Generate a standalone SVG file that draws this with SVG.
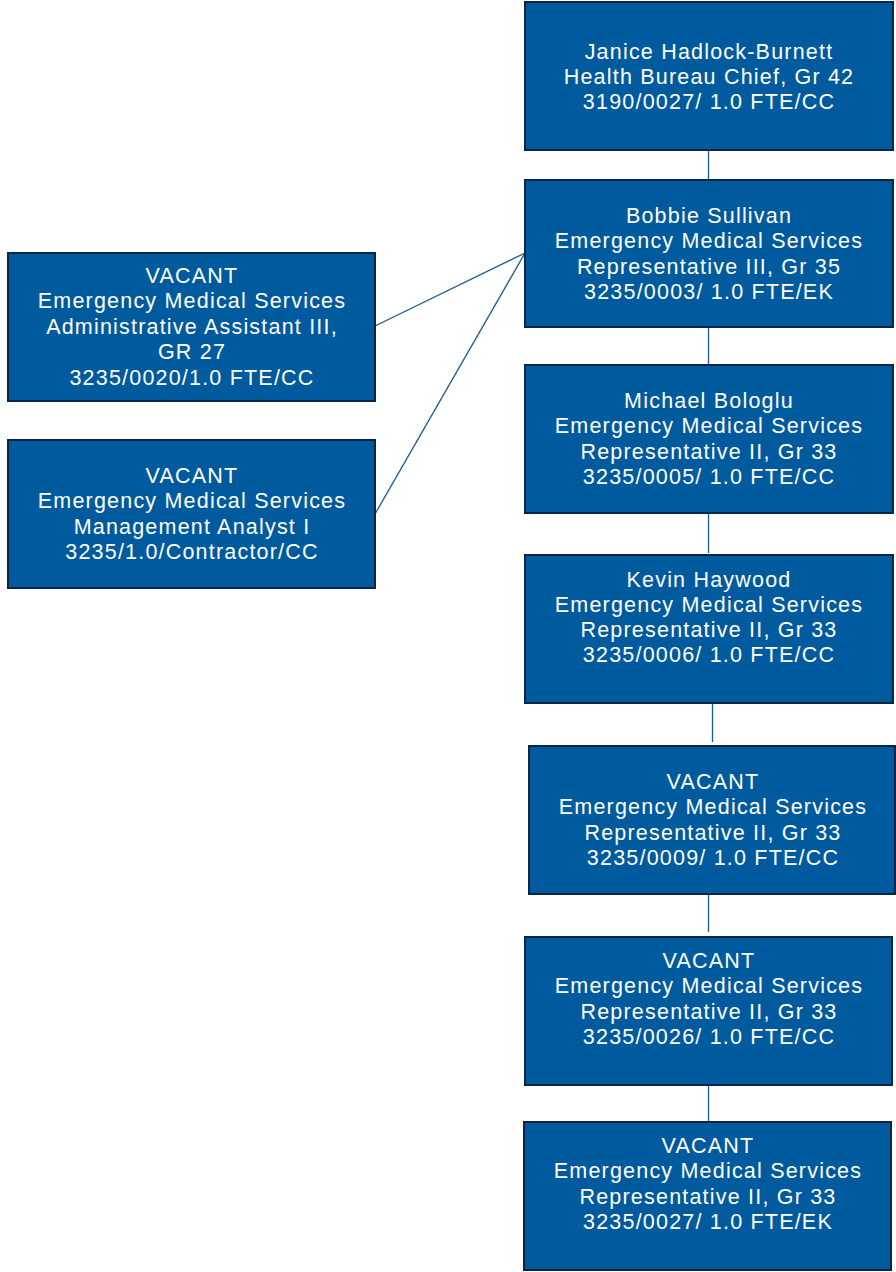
<svg xmlns="http://www.w3.org/2000/svg" width="896" height="1272" viewBox="0 0 896 1272">
<style>
.box{fill:#005A9E;stroke:#0B2545;stroke-width:2}
.t{font-family:"Liberation Sans",Arial,sans-serif;font-size:21.5px;letter-spacing:1.2px;fill:#ffffff;text-anchor:middle}
.c{stroke:#1B5A96;stroke-width:1.3;fill:none}
</style>
<rect width="896" height="1272" fill="#ffffff"/>
<g id="connectors">
<line class="c" x1="708.5" y1="150" x2="708.5" y2="180"/>
<line class="c" x1="708.5" y1="327" x2="708.5" y2="365"/>
<line class="c" x1="708.5" y1="513" x2="708.5" y2="553"/>
<line class="c" x1="712.5" y1="704" x2="712.5" y2="742"/>
<line class="c" x1="708.5" y1="894" x2="708.5" y2="932"/>
<line class="c" x1="708.5" y1="1086" x2="708.5" y2="1122"/>
<line class="c" x1="375" y1="326" x2="525" y2="253"/>
<line class="c" x1="375" y1="514" x2="525" y2="253"/>
</g>
<g id="n1"><rect class="box" x="525" y="2" width="368" height="148"/>
<text class="t"><tspan x="709" y="59">Janice Hadlock-Burnett</tspan><tspan x="709" y="84">Health Bureau Chief, Gr 42</tspan><tspan x="709" y="109">3190/0027/ 1.0 FTE/CC</tspan></text></g>
<g id="n2"><rect class="box" x="525" y="180" width="368" height="147"/>
<text class="t"><tspan x="709" y="223">Bobbie Sullivan</tspan><tspan x="709" y="248">Emergency Medical Services</tspan><tspan x="709" y="274">Representative III, Gr 35</tspan><tspan x="709" y="299">3235/0003/ 1.0 FTE/EK</tspan></text></g>
<g id="n3"><rect class="box" x="525" y="365" width="368" height="148"/>
<text class="t"><tspan x="709" y="408">Michael Bologlu</tspan><tspan x="709" y="433">Emergency Medical Services</tspan><tspan x="709" y="459">Representative II, Gr 33</tspan><tspan x="709" y="484">3235/0005/ 1.0 FTE/CC</tspan></text></g>
<g id="n4"><rect class="box" x="525" y="555" width="368" height="148"/>
<text class="t"><tspan x="709" y="587">Kevin Haywood</tspan><tspan x="709" y="612">Emergency Medical Services</tspan><tspan x="709" y="637">Representative II, Gr 33</tspan><tspan x="709" y="662">3235/0006/ 1.0 FTE/CC</tspan></text></g>
<g id="n5"><rect class="box" x="529" y="746" width="366" height="148"/>
<text class="t"><tspan x="713" y="789">VACANT</tspan><tspan x="713" y="814">Emergency Medical Services</tspan><tspan x="713" y="840">Representative II, Gr 33</tspan><tspan x="713" y="865">3235/0009/ 1.0 FTE/CC</tspan></text></g>
<g id="n6"><rect class="box" x="525" y="937" width="367" height="148"/>
<text class="t"><tspan x="709" y="968">VACANT</tspan><tspan x="709" y="993">Emergency Medical Services</tspan><tspan x="709" y="1019">Representative II, Gr 33</tspan><tspan x="709" y="1044">3235/0026/ 1.0 FTE/CC</tspan></text></g>
<g id="n7"><rect class="box" x="524" y="1122" width="367" height="148"/>
<text class="t"><tspan x="708" y="1153">VACANT</tspan><tspan x="708" y="1178">Emergency Medical Services</tspan><tspan x="708" y="1204">Representative II, Gr 33</tspan><tspan x="708" y="1229">3235/0027/ 1.0 FTE/EK</tspan></text></g>
<g id="nA"><rect class="box" x="8" y="253" width="367" height="148"/>
<text class="t"><tspan x="192" y="283">VACANT</tspan><tspan x="192" y="308">Emergency Medical Services</tspan><tspan x="192" y="334">Administrative Assistant III,</tspan><tspan x="192" y="359">GR 27</tspan><tspan x="192" y="385">3235/0020/1.0 FTE/CC</tspan></text></g>
<g id="nB"><rect class="box" x="8" y="440" width="367" height="148"/>
<text class="t"><tspan x="192" y="483">VACANT</tspan><tspan x="192" y="508">Emergency Medical Services</tspan><tspan x="192" y="534">Management Analyst I</tspan><tspan x="192" y="559">3235/1.0/Contractor/CC</tspan></text></g>
</svg>
